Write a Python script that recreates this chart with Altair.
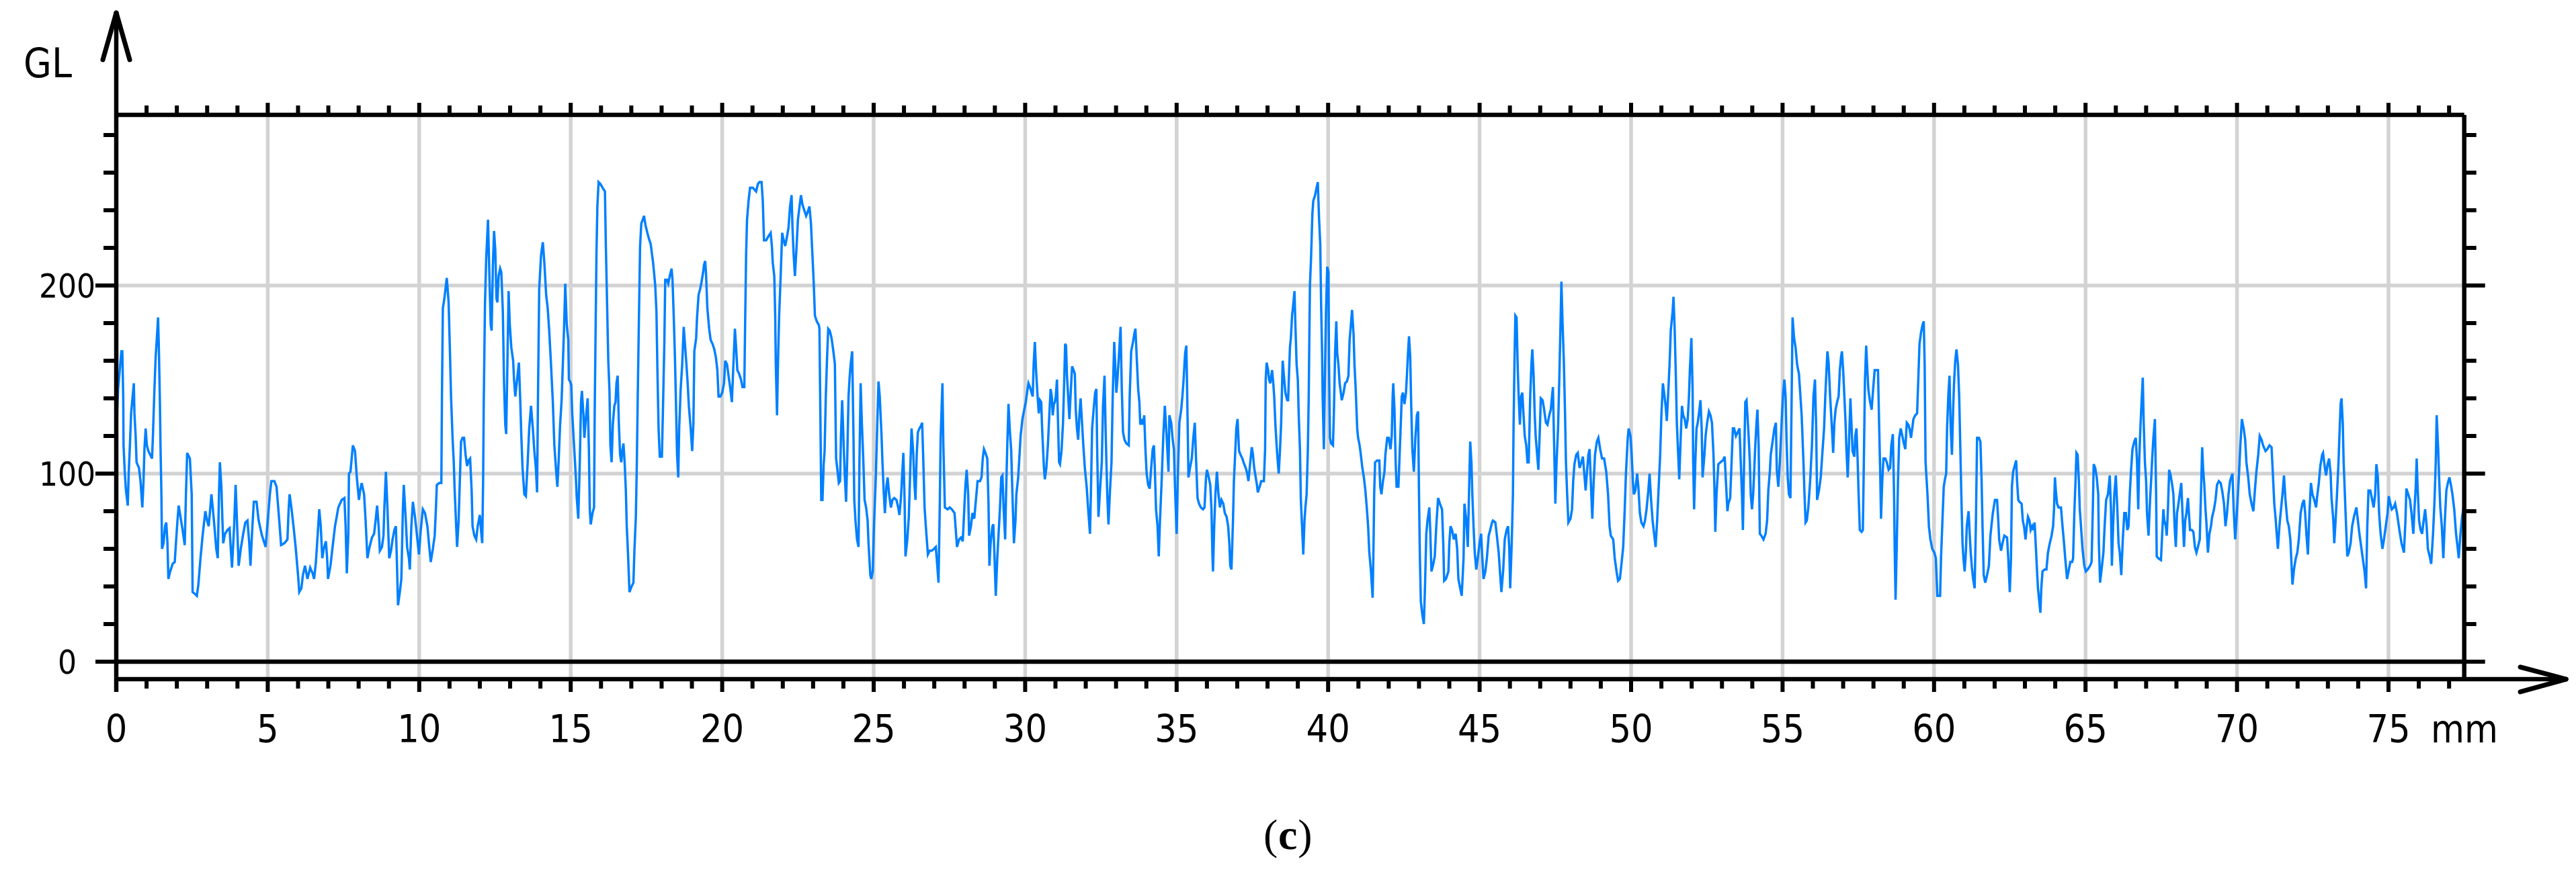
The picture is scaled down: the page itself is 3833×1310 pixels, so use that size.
import altair as alt
import pandas as pd

# ---- data: (distance in mm, grey level) ----
seg_00 = [(0.01,89),(0.03,133),(0.06,145),(0.10,152),(0.13,158),(0.17,165),(0.20,165),(0.23,141),(0.24,115),(0.28,101),(0.32,91),(0.38,83),(0.41,100),(0.45,115),(0.49,132),(0.54,141),(0.58,148),(0.60,132),(0.64,120),(0.67,106),(0.75,103),(0.80,96),(0.86,82),(0.90,96),(0.93,113),(0.97,124),(1.01,115),(1.06,112),(1.12,110),(1.18,108),(1.21,120),(1.26,145),(1.30,162),(1.34,172),(1.38,183),(1.41,164),(1.44,138),(1.46,115),(1.49,89),(1.51,60),(1.56,63),(1.61,72),(1.65,74),(1.69,63),(1.72,44),(1.78,48),(1.86,52),(1.93,53),(1.97,63),(2.02,75),(2.06,83),(2.12,77),(2.19,70),(2.26,62),(2.30,89),(2.34,111),(2.43,108),(2.49,89),(2.52,37),(2.60,36),(2.66,35),(2.71,41),(2.78,55),(2.85,67),(2.94,80),(3.00,75),(3.05,72),(3.10,81),(3.14,89),(3.19,81),(3.25,70),(3.30,60),(3.35,55),(3.39,89),(3.42,106),(3.47,93),(3.50,77),(3.53,63),(3.59,68),(3.67,70),(3.74,71),(3.78,60),(3.82,50),(3.89,72),(3.94,94),(3.99,72),(4.04,51),(4.11,60),(4.19,68),(4.26,74),(4.33,75),(4.39,63),(4.43,51),(4.48,68),(4.54,85),(4.63,85),(4.70,75),(4.81,67),(4.93,61),(5.00,75),(5.07,89),(5.12,96),(5.22,96),(5.29,93),(5.37,77),(5.44,62),(5.55,63),(5.65,65),(5.69,81),(5.72,89),(5.78,82),(5.85,72),(5.92,61),(6.00,46),(6.04,37),(6.11,39),(6.16,46),(6.23,51),(6.31,44),(6.40,50),(6.48,47),(6.53,44),(6.59,53),(6.65,68),(6.70,81),(6.75,72),(6.80,55),(6.85,60),(6.92,64),(6.96,55),(6.99,44),(7.07,51),(7.14,61),(7.22,72),(7.33,82),(7.44,86),(7.53,87),(7.57,72),(7.61,47),(7.66,68),(7.68,100)]
seg_08 = [(7.73,101),(7.81,115),(7.88,112),(7.94,98),(8.01,86),(8.05,91),(8.10,95),(8.18,89),(8.23,75),(8.29,55),(8.36,61),(8.44,66),(8.51,68),(8.56,75),(8.61,83),(8.66,72),(8.70,59),(8.77,61),(8.82,67),(8.85,82),(8.90,101),(8.95,82),(9.01,55),(9.07,59),(9.12,65),(9.18,70),(9.23,72),(9.26,55),(9.30,30),(9.36,37),(9.41,44),(9.46,81),(9.49,94),(9.55,77),(9.60,61),(9.66,55),(9.69,49),(9.74,72),(9.79,85),(9.86,77),(9.92,68),(9.99,57),(10.05,70),(10.12,81),(10.19,79),(10.27,72),(10.32,63),(10.38,53),(10.45,60),(10.51,67),(10.55,81),(10.58,94),(10.66,95),(10.73,95),(10.75,141),(10.78,188),(10.83,193),(10.88,200),(10.91,204),(10.97,191),(11.01,167),(11.05,141),(11.10,119),(11.14,106),(11.17,91),(11.22,72),(11.25,61),(11.30,75),(11.34,96),(11.38,117),(11.43,119),(11.48,119),(11.53,110),(11.58,104),(11.63,107),(11.68,108),(11.73,91),(11.76,72),(11.82,67),(11.88,65),(11.93,72),(12.00,78),(12.05,68),(12.08,63),(12.11,98),(12.13,138),(12.17,190),(12.21,214),(12.27,235),(12.32,203),(12.36,179),(12.39,176),(12.43,210),(12.47,229),(12.51,219),(12.55,193),(12.58,191),(12.62,205),(12.67,209),(12.71,207),(12.76,186),(12.80,148),(12.84,126),(12.87,121),(12.91,158),(12.95,197),(12.99,179),(13.04,167),(13.10,160),(13.13,150),(13.17,141),(13.23,150),(13.29,159),(13.33,141),(13.37,120),(13.41,103),(13.47,89),(13.52,88),(13.58,106),(13.63,124),(13.69,136),(13.75,124),(13.80,112),(13.85,103),(13.89,90),(13.92,141),(13.96,198),(14.02,216),(14.08,223),(14.13,212),(14.19,195),(14.24,188),(14.29,176),(14.35,158),(14.41,138),(14.46,115),(14.52,101),(14.56,93),(14.60,106),(14.65,126),(14.70,139),(14.74,158),(14.78,177),(14.82,201),(14.87,179),(14.92,171),(14.94,150),(14.98,149),(15.02,147),(15.05,132),(15.11,115),(15.17,98),(15.20,87),(15.25,76),(15.30,106),(15.34,138),(15.37,144),(15.42,131),(15.45,119)]
seg_15 = [(15.51,131),(15.56,140),(15.60,113),(15.63,81),(15.66,73),(15.72,79),(15.77,82),(15.79,129),(15.82,174),(15.85,217),(15.88,242),(15.92,255),(15.98,254),(16.05,252),(16.13,250),(16.16,221),(16.20,191),(16.24,160),(16.28,144),(16.31,115),(16.35,106),(16.39,126),(16.44,136),(16.48,138),(16.51,148),(16.55,152),(16.59,126),(16.63,110),(16.67,106),(16.70,112),(16.74,116),(16.78,106),(16.82,91),(16.85,72),(16.89,58),(16.94,37),(17.01,40),(17.07,42),(17.10,58),(17.15,77),(17.18,103),(17.21,138),(17.25,181),(17.29,221),(17.33,233),(17.38,235),(17.42,237),(17.47,232),(17.53,228),(17.58,225),(17.64,222),(17.68,217),(17.72,212),(17.75,207),(17.79,200),(17.83,186),(17.86,157),(17.90,124),(17.94,109),(18.01,109),(18.05,138),(18.09,169),(18.12,203),(18.18,203),(18.22,201),(18.27,205),(18.33,209),(18.36,203),(18.40,184),(18.44,162),(18.47,141),(18.51,110),(18.55,98),(18.58,124),(18.63,145),(18.68,158),(18.73,178),(18.77,169),(18.82,158),(18.86,148),(18.90,136),(18.96,124),(19.01,112),(19.05,127),(19.08,165),(19.14,172),(19.17,183),(19.22,195),(19.27,198),(19.32,202),(19.37,207),(19.40,211),(19.44,213),(19.47,205),(19.51,188),(19.57,177),(19.62,171),(19.68,169),(19.74,166),(19.79,162),(19.84,155),(19.88,141),(19.94,141),(20.00,143),(20.06,148),(20.10,160),(20.16,158),(20.21,152),(20.27,145),(20.32,138),(20.36,154),(20.42,177),(20.46,167),(20.50,155),(20.56,153),(20.62,150),(20.67,146),(20.73,146),(20.76,183),(20.79,217),(20.82,235),(20.87,245),(20.92,252),(21.01,252),(21.12,250),(21.18,254),(21.23,255),(21.30,255),(21.34,245),(21.38,224),(21.45,224),(21.52,226),(21.60,228),(21.64,221),(21.67,212),(21.72,205),(21.75,184),(21.77,158),(21.81,131),(21.84,158),(21.88,184),(21.93,205),(21.98,228),(22.03,224),(22.08,221),(22.14,226),(22.19,231),(22.24,242),(22.29,248),(22.32,231),(22.36,216),(22.40,205),(22.45,219),(22.50,235),(22.56,243),(22.60,248),(22.65,243),(22.71,240),(22.77,237),(22.82,239),(22.88,242),(22.93,233),(22.97,219),(23.02,202),(23.06,184),(23.12,181),(23.19,179)]
seg_23 = [(23.21,177),(23.24,132),(23.27,86),(23.31,86),(23.35,105),(23.38,112),(23.42,141),(23.46,161),(23.50,177),(23.55,176),(23.61,172),(23.67,165),(23.72,158),(23.74,132),(23.76,108),(23.81,101),(23.85,95),(23.89,96),(23.92,120),(23.96,139),(24.01,115),(24.05,98),(24.09,85),(24.13,110),(24.17,141),(24.21,152),(24.24,158),(24.29,165),(24.33,124),(24.36,86),(24.40,75),(24.45,65),(24.50,61),(24.53,106),(24.57,148),(24.61,127),(24.66,106),(24.70,86),(24.75,82),(24.80,75),(24.83,63),(24.89,46),(24.92,44),(24.97,48),(25.01,72),(25.07,98),(25.12,127),(25.16,149),(25.20,141),(25.26,120),(25.29,106),(25.33,91),(25.37,79),(25.42,93),(25.46,98),(25.51,89),(25.57,82),(25.62,86),(25.68,87),(25.75,86),(25.81,82),(25.85,78),(25.90,87),(25.94,99),(25.98,111),(26.02,86),(26.05,56),(26.11,65),(26.16,77),(26.20,98),(26.25,124),(26.31,110),(26.34,96),(26.38,86),(26.42,110),(26.46,122),(26.51,124),(26.55,125),(26.60,127),(26.64,106),(26.68,82),(26.73,70),(26.79,57),(26.85,59),(26.92,59),(26.99,60),(27.05,61),(27.09,53),(27.14,42),(27.18,81),(27.21,119),(27.27,148),(27.30,115),(27.35,82),(27.44,81),(27.51,82),(27.58,81),(27.67,79),(27.71,70),(27.75,61),(27.82,65),(27.88,66),(27.94,64),(27.99,81),(28.03,94),(28.07,102),(28.12,89),(28.15,67),(28.21,72),(28.26,79),(28.32,76),(28.38,87),(28.43,96),(28.51,96),(28.56,98),(28.60,108),(28.64,113),(28.69,111),(28.75,108),(28.79,84),(28.82,51),(28.86,63),(28.92,72),(28.95,73),(28.99,55),(29.03,35),(29.08,55),(29.12,67),(29.17,82),(29.21,98),(29.25,99),(29.29,81),(29.34,65),(29.37,89),(29.41,115),(29.45,137),(29.49,124),(29.54,112),(29.58,89),(29.63,63),(29.68,75),(29.71,89),(29.77,98),(29.80,106),(29.85,120),(29.91,129),(29.97,134),(30.02,138),(30.08,145),(30.11,148),(30.16,146),(30.21,143),(30.25,141),(30.28,158),(30.32,170),(30.36,155),(30.41,141),(30.45,132),(30.49,139),(30.53,138),(30.56,124),(30.62,103),(30.65,97),(30.70,103),(30.75,115),(30.80,132),(30.84,145),(30.88,141),(30.91,131),(30.95,137)]
seg_31 = [(30.98,138),(31.01,141),(31.05,150),(31.09,124),(31.12,106),(31.15,105),(31.20,112),(31.25,127),(31.29,150),(31.32,169),(31.35,168),(31.38,152),(31.42,141),(31.46,129),(31.51,145),(31.55,157),(31.60,155),(31.64,153),(31.67,134),(31.71,124),(31.75,118),(31.79,131),(31.83,140),(31.88,126),(31.92,115),(31.97,103),(32.03,93),(32.08,81),(32.14,68),(32.17,89),(32.21,124),(32.26,134),(32.31,143),(32.35,145),(32.38,110),(32.42,77),(32.47,91),(32.53,106),(32.57,136),(32.62,152),(32.66,120),(32.71,89),(32.75,73),(32.80,91),(32.85,106),(32.89,141),(32.94,170),(32.97,159),(33.01,143),(33.05,151),(33.10,164),(33.15,178),(33.19,145),(33.23,122),(33.28,118),(33.34,116),(33.42,115),(33.45,141),(33.50,165),(33.56,170),(33.60,174),(33.64,177),(33.69,159),(33.73,145),(33.77,138),(33.80,126),(33.85,129),(33.89,126),(33.93,131),(33.97,113),(34.01,100),(34.06,94),(34.11,92),(34.16,103),(34.21,113),(34.25,115),(34.28,103),(34.32,81),(34.37,72),(34.41,56),(34.45,75),(34.50,94),(34.56,120),(34.61,136),(34.67,120),(34.73,101),(34.76,131),(34.82,127),(34.87,118),(34.91,113),(34.95,91),(35.00,68),(35.04,98),(35.09,127),(35.15,134),(35.19,141),(35.23,150),(35.28,164),(35.32,168),(35.35,141),(35.39,98),(35.44,103),(35.50,108),(35.55,119),(35.60,127),(35.64,108),(35.69,87),(35.74,84),(35.80,82),(35.87,81),(35.92,82),(35.97,98),(36.00,102),(36.06,98),(36.11,94),(36.15,81),(36.18,58),(36.20,48),(36.24,72),(36.28,89),(36.33,101),(36.38,89),(36.43,82),(36.48,86),(36.54,84),(36.59,79),(36.65,77),(36.70,72),(36.74,63),(36.77,51),(36.81,49),(36.86,75),(36.89,96),(36.93,110),(36.97,124),(37.01,129),(37.06,112),(37.11,110),(37.17,108),(37.23,105),(37.28,103),(37.33,100),(37.37,96),(37.43,106),(37.48,114),(37.52,110),(37.56,103),(37.61,98),(37.65,94),(37.68,90),(37.74,93),(37.79,96),(37.88,96),(37.92,113),(37.94,150),(37.97,159),(38.02,155),(38.05,150),(38.09,148),(38.15,155),(38.19,148),(38.22,141),(38.26,126),(38.30,115),(38.33,108),(38.37,100),(38.41,112),(38.45,127),(38.50,160),(38.55,150),(38.59,143),(38.65,139),(38.68,139),(38.72,158),(38.74,167)]
seg_39 = [(38.77,172),(38.81,184),(38.85,190),(38.89,197),(38.92,179),(38.96,158),(39.00,150),(39.03,131),(39.07,113),(39.10,86),(39.14,72),(39.18,57),(39.22,75),(39.25,82),(39.29,89),(39.33,112),(39.36,141),(39.38,172),(39.40,200),(39.44,216),(39.48,238),(39.51,245),(39.57,248),(39.62,252),(39.66,255),(39.70,236),(39.74,222),(39.77,189),(39.80,165),(39.82,141),(39.86,113),(39.90,158),(39.93,186),(39.97,210),(40.01,207),(40.03,158),(40.06,119),(40.10,116),(40.16,115),(40.19,132),(40.23,164),(40.27,181),(40.30,164),(40.34,158),(40.38,148),(40.42,143),(40.45,139),(40.51,143),(40.56,148),(40.62,149),(40.67,152),(40.71,171),(40.75,179),(40.79,187),(40.84,174),(40.87,158),(40.91,145),(40.96,124),(40.99,119),(41.04,115),(41.08,110),(41.13,103),(41.18,98),(41.23,91),(41.28,81),(41.32,72),(41.36,58),(41.41,49),(41.47,34),(41.50,63),(41.52,89),(41.55,106),(41.62,107),(41.69,107),(41.72,93),(41.76,89),(41.81,96),(41.86,101),(41.89,110),(41.95,119),(42.00,119),(42.06,113),(42.10,120),(42.13,141),(42.15,148),(42.19,134),(42.23,106),(42.26,93),(42.32,93),(42.36,110),(42.40,127),(42.43,141),(42.47,143),(42.52,137),(42.57,143),(42.61,155),(42.64,165),(42.67,173),(42.71,162),(42.74,138),(42.78,113),(42.83,101),(42.88,119),(42.93,131),(42.97,133),(43.00,89),(43.03,55),(43.06,32),(43.11,25),(43.16,20),(43.20,41),(43.24,68),(43.28,75),(43.34,82),(43.37,70),(43.41,48),(43.46,51),(43.52,56),(43.57,72),(43.63,87),(43.69,84),(43.76,81),(43.80,63),(43.83,43),(43.89,44),(43.97,48),(44.00,63),(44.04,72),(44.09,70),(44.15,65),(44.21,68),(44.26,60),(44.30,44),(44.36,39),(44.41,35),(44.47,55),(44.50,84),(44.56,75),(44.61,61),(44.65,89),(44.69,117),(44.73,106),(44.76,89),(44.80,72),(44.84,58),(44.89,49),(44.94,55),(45.00,63),(45.05,68),(45.09,55),(45.13,44),(45.19,48),(45.24,55),(45.30,67),(45.35,70),(45.41,74),(45.44,75),(45.52,74),(45.57,67),(45.63,58),(45.68,46),(45.72,37),(45.78,49),(45.83,65),(45.89,70),(45.94,72),(45.98,60),(46.01,39),(46.06,63),(46.10,89),(46.12,124),(46.15,158),(46.18,184),(46.22,183),(46.26,155),(46.29,141),(46.33,126),(46.37,141),(46.41,143),(46.44,134),(46.49,120)]
seg_46 = [(46.54,115),(46.58,106),(46.62,106),(46.67,141),(46.71,158),(46.74,166),(46.78,153),(46.82,131),(46.85,120),(46.89,112),(46.94,102),(46.99,124),(47.02,140),(47.08,139),(47.13,134),(47.19,127),(47.24,126),(47.30,131),(47.35,134),(47.39,141),(47.42,146),(47.46,115),(47.50,84),(47.54,106),(47.59,124),(47.63,150),(47.67,179),(47.70,202),(47.74,179),(47.78,160),(47.82,132),(47.85,106),(47.89,89),(47.93,74),(48.00,76),(48.05,81),(48.09,96),(48.13,105),(48.19,110),(48.24,111),(48.30,103),(48.36,106),(48.41,109),(48.44,103),(48.50,91),(48.54,100),(48.59,110),(48.63,113),(48.67,96),(48.72,76),(48.76,94),(48.81,110),(48.87,117),(48.92,119),(48.98,113),(49.04,108),(49.11,108),(49.18,101),(49.24,89),(49.29,72),(49.33,67),(49.41,65),(49.46,55),(49.52,48),(49.57,43),(49.63,44),(49.69,53),(49.74,61),(49.79,81),(49.83,100),(49.89,119),(49.92,124),(49.98,120),(50.02,110),(50.06,96),(50.09,89),(50.14,91),(50.20,100),(50.24,93),(50.29,79),(50.34,74),(50.41,72),(50.46,75),(50.51,81),(50.57,91),(50.61,100),(50.66,86),(50.71,75),(50.76,68),(50.81,61),(50.86,75),(50.92,96),(50.96,110),(51.00,131),(51.05,148),(51.09,143),(51.14,136),(51.18,128),(51.22,141),(51.27,158),(51.31,176),(51.37,186),(51.40,194),(51.44,176),(51.48,150),(51.51,127),(51.55,112),(51.59,97),(51.64,120),(51.68,136),(51.72,131),(51.77,129),(51.82,124),(51.87,129),(51.91,141),(51.94,155),(51.99,172),(52.03,145),(52.05,106),(52.08,81),(52.12,106),(52.16,124),(52.20,127),(52.24,132),(52.29,139),(52.33,124),(52.36,98),(52.42,110),(52.46,120),(52.51,127),(52.57,133),(52.62,131),(52.67,127),(52.72,110),(52.75,93),(52.78,69),(52.82,89),(52.88,105),(52.95,106),(53.03,107),(53.09,109),(53.13,96),(53.18,80),(53.21,84),(53.27,87),(53.31,103),(53.36,124),(53.40,124),(53.46,120),(53.52,122),(53.58,124),(53.62,106),(53.66,89),(53.69,70),(53.73,106),(53.77,138),(53.81,139),(53.84,131),(53.88,120),(53.92,106),(53.95,89),(53.99,81),(54.03,89),(54.06,100),(54.10,115),(54.14,127),(54.17,134),(54.21,115),(54.25,68)]
seg_54 = [(54.30,67),(54.37,65),(54.44,68),(54.49,75),(54.53,91),(54.58,101),(54.61,110),(54.67,117),(54.73,124),(54.78,127),(54.81,102),(54.86,93),(54.91,106),(54.95,120),(54.98,131),(55.02,143),(55.06,150),(55.10,141),(55.13,119),(55.17,98),(55.21,89),(55.26,87),(55.30,141),(55.33,183),(55.38,172),(55.43,167),(55.48,158),(55.54,153),(55.59,141),(55.63,131),(55.69,106),(55.72,91),(55.76,74),(55.80,75),(55.85,82),(55.91,96),(55.97,115),(56.02,141),(56.07,150),(56.11,124),(56.14,86),(56.20,91),(56.26,98),(56.31,110),(56.37,124),(56.41,141),(56.45,155),(56.48,165),(56.52,159),(56.57,141),(56.63,124),(56.67,111),(56.71,127),(56.75,134),(56.80,138),(56.85,141),(56.89,155),(56.93,162),(56.96,165),(57.00,155),(57.04,141),(57.08,127),(57.11,112),(57.15,98),(57.19,115),(57.24,140),(57.28,124),(57.31,112),(57.37,109),(57.40,120),(57.44,124),(57.48,106),(57.51,89),(57.55,70),(57.61,69),(57.65,70),(57.68,103),(57.72,150),(57.76,168),(57.79,158),(57.83,145),(57.88,139),(57.94,134),(57.99,145),(58.04,155),(58.09,155),(58.15,155),(58.19,124),(58.22,103),(58.25,76),(58.29,96),(58.33,108),(58.39,108),(58.44,106),(58.50,102),(58.55,103),(58.59,115),(58.64,121),(58.68,89),(58.70,61),(58.73,33),(58.77,63),(58.81,96),(58.85,119),(58.90,124),(58.94,121),(58.99,117),(59.05,113),(59.10,127),(59.15,126),(59.19,124),(59.24,119),(59.28,124),(59.32,129),(59.38,131),(59.44,132),(59.48,150),(59.52,169),(59.57,175),(59.62,179),(59.66,181),(59.69,158),(59.72,106),(59.75,98),(59.79,87),(59.83,72),(59.88,65),(59.94,60),(60.01,58),(60.06,55),(60.11,35),(60.20,35),(60.23,55),(60.27,72),(60.32,93),(60.36,97),(60.40,100),(60.43,124),(60.47,141),(60.51,152),(60.55,124),(60.59,110),(60.63,134),(60.66,148),(60.70,160),(60.74,166),(60.79,158),(60.83,141),(60.86,119),(60.90,89),(60.94,63),(60.97,55),(61.01,48),(61.05,58),(61.08,72),(61.14,80),(61.17,70),(61.21,58),(61.25,50),(61.29,44),(61.34,39),(61.38,72),(61.42,119),(61.48,119),(61.53,117),(61.57,96),(61.60,72),(61.64,46),(61.69,42),(61.75,46),(61.81,51),(61.86,67),(61.94,79),(62.01,86)]
seg_62 = [(62.08,86),(62.12,75),(62.15,65),(62.21,59),(62.26,63),(62.32,67),(62.41,66),(62.45,55),(62.50,37),(62.54,55),(62.57,93),(62.61,101),(62.66,104),(62.71,107),(62.74,96),(62.78,86),(62.82,85),(62.89,84),(62.93,75),(62.97,72),(63.02,65),(63.06,72),(63.10,77),(63.15,75),(63.19,70),(63.24,72),(63.28,70),(63.32,74),(63.36,61),(63.40,48),(63.43,39),(63.51,26),(63.54,39),(63.58,48),(63.65,49),(63.71,49),(63.76,58),(63.82,63),(63.88,67),(63.93,72),(63.96,81),(63.99,98),(64.02,91),(64.06,84),(64.11,82),(64.19,82),(64.24,72),(64.28,65),(64.33,55),(64.39,44),(64.45,49),(64.50,53),(64.56,53),(64.59,55),(64.63,79),(64.67,96),(64.70,111),(64.74,110),(64.78,96),(64.81,81),(64.85,72),(64.90,60),(64.96,51),(65.01,48),(65.07,49),(65.15,51),(65.20,53),(65.24,81),(65.27,105),(65.32,103),(65.37,98),(65.42,89),(65.44,63),(65.48,42),(65.53,49),(65.59,58),(65.63,72),(65.68,86),(65.74,89),(65.80,99),(65.84,81),(65.87,51),(65.91,72),(65.95,89),(66.00,99),(66.05,81),(66.09,63),(66.13,58),(66.18,46),(66.23,65),(66.28,79),(66.33,79),(66.38,70),(66.42,72),(66.46,89),(66.50,101),(66.55,113),(66.61,117),(66.66,119),(66.70,106),(66.74,81),(66.77,106),(66.81,124),(66.85,138),(66.89,151),(66.92,127),(66.96,106),(67.00,96),(67.03,79),(67.08,67),(67.13,86),(67.17,98),(67.20,108),(67.24,119),(67.29,129),(67.33,89),(67.35,56),(67.40,55),(67.49,54),(67.53,68),(67.57,81),(67.60,75),(67.65,72),(67.68,67),(67.72,81),(67.76,102),(67.81,99),(67.86,94),(67.90,89),(67.94,72),(67.98,61),(68.02,79),(68.05,82),(68.11,89),(68.16,95),(68.20,79),(68.25,61),(68.29,75),(68.33,79),(68.38,87),(68.42,77),(68.45,70),(68.51,70),(68.56,69),(68.61,61),(68.66,58),(68.71,61),(68.77,65),(68.81,89),(68.85,114),(68.88,103),(68.92,94),(68.96,81),(68.99,74),(69.04,58),(69.09,68),(69.14,72),(69.18,77),(69.24,81),(69.29,86),(69.34,94),(69.40,96),(69.46,95),(69.51,91),(69.57,84),(69.62,72),(69.67,79),(69.72,89),(69.77,96)]
seg_70 = [(69.85,100),(69.89,81),(69.94,65),(69.98,75),(70.03,89),(70.07,101),(70.11,115),(70.16,129),(70.22,124),(70.27,118),(70.31,106),(70.37,98),(70.42,89),(70.48,84),(70.54,80),(70.59,91),(70.64,101),(70.70,110),(70.75,120),(70.81,118),(70.86,115),(70.94,112),(71.00,113),(71.07,115),(71.14,114),(71.18,101),(71.23,84),(71.28,75),(71.31,68),(71.35,60),(71.40,72),(71.44,79),(71.50,89),(71.55,99),(71.60,86),(71.66,75),(71.71,72),(71.76,65),(71.79,55),(71.83,41),(71.88,49),(71.94,55),(71.99,58),(72.04,65),(72.10,79),(72.16,84),(72.21,86),(72.25,79),(72.29,68),(72.34,57),(72.39,79),(72.44,95),(72.49,89),(72.55,86),(72.61,82),(72.64,87),(72.70,95),(72.75,104),(72.81,110),(72.84,111),(72.90,103),(72.94,99),(72.99,105),(73.04,108),(73.09,100),(73.12,87),(73.18,75),(73.21,63),(73.25,74),(73.30,89),(73.35,106),(73.38,120),(73.42,137),(73.45,140),(73.49,127),(73.52,106),(73.56,89),(73.60,72),(73.64,56),(73.69,58),(73.75,63),(73.80,72),(73.86,77),(73.94,82),(73.99,75),(74.04,68),(74.10,61),(74.15,55),(74.21,48),(74.26,39),(74.30,72),(74.34,91),(74.40,91),(74.45,87),(74.51,82),(74.56,89),(74.60,105),(74.65,98),(74.69,79),(74.74,68),(74.80,60),(74.85,65),(74.91,72),(74.97,79),(75.01,88),(75.06,84),(75.11,81),(75.17,82),(75.22,84),(75.28,79),(75.36,70),(75.43,63),(75.51,58),(75.56,75),(75.59,92),(75.65,89),(75.71,86),(75.76,79),(75.82,68),(75.86,82),(75.90,93),(75.93,108),(75.96,93),(76.01,75),(76.06,70),(76.11,68),(76.16,75),(76.21,81),(76.26,72),(76.30,60),(76.36,56),(76.41,52),(76.47,68),(76.52,86),(76.56,106),(76.59,131),(76.64,113),(76.67,98),(76.71,82),(76.76,72),(76.81,55),(76.86,75),(76.91,91),(76.96,95),(77.01,98),(77.06,94),(77.11,89),(77.17,81),(77.23,68),(77.28,61),(77.32,55),(77.37,67),(77.43,77),(77.50,84)]

x_tick_labels = [0, 5, 10, 15, 20, 25, 30, 35, 40, 45, 50, 55, 60, 65, 70, 75]
x_unit = "mm"
y_tick_labels = [0, 100, 200]
y_minor_ticks = [0, 20, 40, 60, 80, 100, 120, 140, 160, 180, 200, 220, 240, 260, 280]
x_minor_ticks = list(range(1, 78))
y_title = "GL"
caption_parts = ["(", "c", ")"]

# ---- frame geometry (data units) ----
X_MAX = 77.5        # right frame edge, mm
Y_TOP = 290.7       # top frame edge, GL
Y_AXIS = -9.3       # bottom axis line, GL
PX_X = 45.08        # px per mm
PX_Y = 2.8          # px per GL

segments = [seg_00, seg_08, seg_15, seg_23, seg_31, seg_39, seg_46, seg_54, seg_62, seg_70]
line_df = pd.DataFrame([p for s in segments for p in s], columns=["mm", "gl"])

XS = alt.Scale(domain=[-173 / PX_X, (3833 - 173) / PX_X], nice=False, zero=False)
YS = alt.Scale(domain=[(985 - 1310) / PX_Y, 985 / PX_Y], nice=False, zero=False)

FONT = "DejaVu Sans Condensed, Liberation Sans, DejaVu Sans, sans-serif"


def rules(rows, **kw):
    df = pd.DataFrame(rows, columns=["x", "y", "x2", "y2"])
    return alt.Chart(df).mark_rule(**kw).encode(
        x=alt.X("x:Q", scale=XS, axis=None),
        y=alt.Y("y:Q", scale=YS, axis=None),
        x2="x2:Q",
        y2="y2:Q",
    )


def texts(rows, **kw):
    df = pd.DataFrame(rows, columns=["x", "y", "t"])
    return alt.Chart(df).mark_text(**kw).encode(
        x=alt.X("x:Q", scale=XS, axis=None),
        y=alt.Y("y:Q", scale=YS, axis=None),
        text="t:N",
    )


GRID = "#d3d3d3"
grid_v = rules([(v, Y_AXIS, v, Y_TOP) for v in x_tick_labels if v > 0], color=GRID, strokeWidth=5.5)
grid_h = rules([(0, v, X_MAX, v) for v in y_tick_labels if v > 0], color=GRID, strokeWidth=5.5)

line = alt.Chart(line_df).mark_line(color="#0080ff", strokeWidth=3.5).encode(
    x=alt.X("mm:Q", scale=XS, axis=None),
    y=alt.Y("gl:Q", scale=YS, axis=None),
)

frame = rules([
    (0, Y_TOP, X_MAX, Y_TOP),              # top border
    (X_MAX, Y_AXIS, X_MAX, Y_TOP),          # right border
    (0, 0, X_MAX, 0),                       # zero line
    (0, Y_AXIS - 19 / PX_Y, 0, 345.0),      # left axis with arrow
    (0, Y_AXIS, 80.86, Y_AXIS),             # bottom axis with arrow
], color="black", strokeWidth=6.5)

ticks_rows = []
for v in x_minor_ticks:
    major = v % 5 == 0
    ticks_rows.append((v, Y_TOP, v, Y_TOP + (18 if major else 14) / PX_Y))
    ticks_rows.append((v, Y_AXIS, v, Y_AXIS - (19 if major else 14) / PX_Y))
for v in y_minor_ticks:
    major = v % 100 == 0
    ticks_rows.append((0, v, -(31 if major else 19) / PX_X, v))
    ticks_rows.append((X_MAX, v, X_MAX + (31 if major else 18) / PX_X, v))
ticks = rules(ticks_rows, color="black", strokeWidth=6)

arrows = rules([
    (0, 345.0, -20 / PX_X, 320.0),
    (0, 345.0, 20 / PX_X, 320.0),
    (80.86, Y_AXIS, 79.35, -2.86),
    (80.86, Y_AXIS, 79.35, -16.07),
], color="black", strokeWidth=7, strokeCap="round")

x_lab = texts([(v, -42.86, str(v)) for v in x_tick_labels],
              font=FONT, fontSize=57, align="center", baseline="alphabetic", color="black")
unit_lab = texts([(76.4, -42.86, x_unit)],
                 font=FONT, fontSize=57, align="left", baseline="alphabetic", color="black")
y_lab = texts([(-1.62, v - 6.3, str(v)) for v in y_tick_labels],
              font=FONT, fontSize=49, align="center", baseline="alphabetic", color="black")
gl_lab = texts([(-3.06, 310.7, y_title)],
               font=FONT, fontSize=60, align="left", baseline="alphabetic", color="black")

CAP_X = 38.67
CAP_Y = -99.5
cap_l = texts([(CAP_X - 15 / PX_X, CAP_Y, caption_parts[0])],
              font="Liberation Serif", fontSize=64, align="right", baseline="alphabetic", color="black")
cap_c = texts([(CAP_X, CAP_Y, caption_parts[1])],
              font="Liberation Serif", fontSize=64, fontWeight="bold", align="center",
              baseline="alphabetic", color="black")
cap_r = texts([(CAP_X + 15 / PX_X, CAP_Y, caption_parts[2])],
              font="Liberation Serif", fontSize=64, align="left", baseline="alphabetic", color="black")

chart = alt.layer(
    grid_v, grid_h, line, frame, ticks, arrows,
    x_lab, unit_lab, y_lab, gl_lab, cap_l, cap_c, cap_r,
).properties(
    width=3833,
    height=1310,
    autosize=alt.AutoSizeParams(type="none"),
    padding={"left": 0, "top": 0, "right": 0, "bottom": 0},
    background="white",
).configure_view(stroke=None)

chart.save("out.html", embed_options={"renderer": "svg", "actions": False})
